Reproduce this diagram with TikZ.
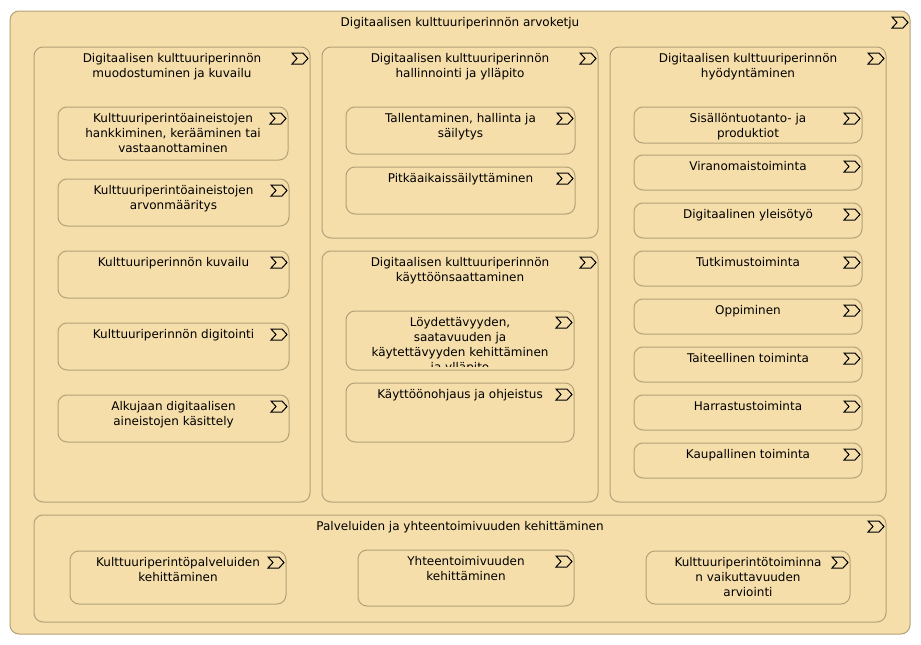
\documentclass[tikz,border=0pt]{standalone}
\usepackage{fontspec}
\setmainfont{DejaVu Sans}
\definecolor{vsfill}{HTML}{F5DEAA}
\definecolor{vsline}{HTML}{B2A178}
\tikzset{
  vsbox/.style={draw=vsline,fill=vsfill,line width=1pt,rounded corners=9pt,anchor=north west,inner sep=0pt,outer sep=0pt},
  vstext/.style={anchor=north,yshift=-4.5pt,inner sep=0pt,align=center,font=\fontsize{12}{15}\selectfont},
  vsicon/.pic={\draw[black,line width=1pt,miter limit=8] (-18,6) -- (-7,6) -- (-2,11.5) -- (-7,17) -- (-18,17) -- (-13,11.5) -- cycle;}
}
\newcommand{\vsnode}[6]{
  \node[vsbox,minimum width=#4pt,minimum height=#5pt] (#1) at (#2,#3) {};
  \pic at (#1.north east) {vsicon};
  \node[vstext] (#1-txt) at (#1.north) {\strut #6};
}
\begin{document}
\begin{tikzpicture}[x=1pt,y=-1pt]
  \useasboundingbox (0,0) rectangle (921,645);
  \vsnode{arvoketju}{10}{11}{900}{623}{Digitaalisen kulttuuriperinnön arvoketju}
  \vsnode{muodostus}{34}{47}{276}{455}{Digitaalisen kulttuuriperinnön\\muodostuminen ja kuvailu}
  \vsnode{hallinta}{322}{47}{276}{191}{Digitaalisen kulttuuriperinnön\\hallinnointi ja ylläpito}
  \vsnode{kaytto}{322}{251}{276}{251}{Digitaalisen kulttuuriperinnön\\käyttöönsaattaminen}
  \vsnode{hyoty}{610}{47}{276}{455}{Digitaalisen kulttuuriperinnön\\hyödyntäminen}
  \vsnode{palvelut}{34}{515}{852}{107}{Palveluiden ja yhteentoimivuuden kehittäminen}

  \vsnode{hankinta}{58}{107}{230}{53}{Kulttuuriperintöaineistojen\\hankkiminen, kerääminen tai\\vastaanottaminen}
  \vsnode{arvo}{58}{179}{231}{47}{Kulttuuriperintöaineistojen\\arvonmääritys}
  \vsnode{kuvailu}{58}{251}{231}{47}{Kulttuuriperinnön kuvailu}
  \vsnode{digitointi}{58}{323}{231}{47}{Kulttuuriperinnön digitointi}
  \vsnode{alkujaan}{58}{395}{231}{47}{Alkujaan digitaalisen\\aineistojen käsittely}

  \vsnode{tallennus}{346}{107}{229}{47}{Tallentaminen, hallinta ja\\säilytys}
  \vsnode{pitka}{346}{167}{229}{47}{Pitkäaikaissäilyttäminen}
  \vsnode{ohjaus}{346}{383}{228}{59}{Käyttöönohjaus ja ohjeistus}

  \vsnode{sisalto}{634}{107}{228}{36}{Sisällöntuotanto- ja\\produktiot}
  \foreach \nm/\y/\txt in {viran/155/Viranomaistoiminta,yleiso/203/Digitaalinen yleisötyö,tutkimus/251/Tutkimustoiminta,oppi/299/Oppiminen,taide/347/Taiteellinen toiminta,harraste/395/Harrastustoiminta,kauppa/443/Kaupallinen toiminta}
    {\vsnode{\nm}{634}{\y}{228}{35}{\txt}}

  \vsnode{kpalvelu}{70}{551}{216}{53}{Kulttuuriperintöpalveluiden\\kehittäminen}
  \vsnode{yhteen}{358}{550}{216}{56}{Yhteentoimivuuden\\kehittäminen}
  \vsnode{vaikutus}{646}{551}{204}{53}{Kulttuuriperintötoiminna\\n vaikuttavuuden\\arviointi}

  \node[vsbox,minimum width=228pt,minimum height=59pt] (loyd) at (346,311) {};
  \pic at (loyd.north east) {vsicon};
  \begin{scope}
    \clip (346,311) rectangle (574,366);
    \node[vstext] (loyd-txt) at (loyd.north) {\strut Löydettävyyden,\\saatavuuden ja\\käytettävyyden kehittäminen\\ja ylläpito};
  \end{scope}
\end{tikzpicture}
\end{document}
